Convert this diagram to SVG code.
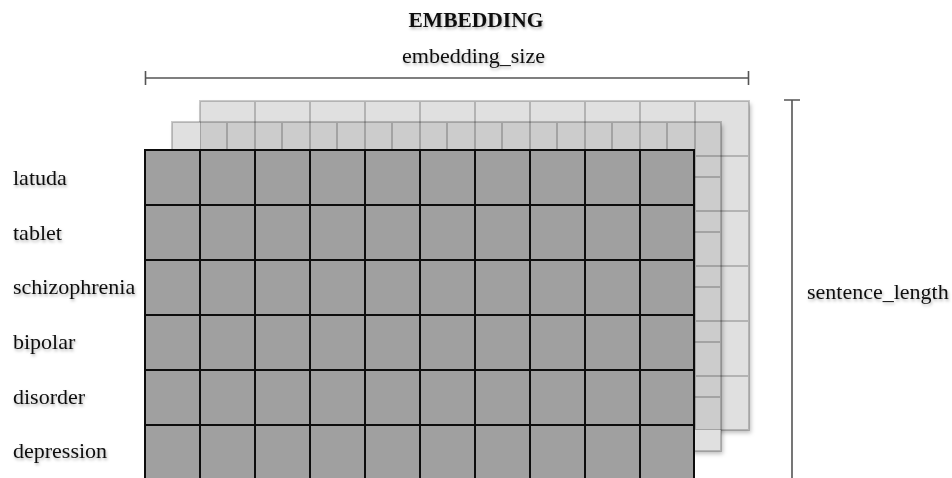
<svg xmlns="http://www.w3.org/2000/svg" width="952" height="478" viewBox="0 0 952 478">
  <defs>
    <style>
      .lbl { font-family: "Liberation Serif", "Times New Roman", serif; font-size: 22px; fill: #111; }
      .title { font-family: "Liberation Serif", "Times New Roman", serif; font-size: 21.5px; font-weight: bold; fill: #111; }
      .gl { fill: none; stroke: #000; stroke-opacity: 0.2; stroke-width: 2; }
      .front { fill: #a0a0a0; }
      .fl { fill: none; stroke: #0d0d0d; stroke-width: 2; }
      .dim { fill: none; stroke: #555; stroke-width: 1.6; }
    </style>
    <filter id="sh" x="-5%" y="-5%" width="110%" height="115%">
      <feDropShadow dx="2" dy="3" stdDeviation="2" flood-color="#000" flood-opacity="0.25"/>
    </filter>
    <filter id="tsh" x="-5%" y="-20%" width="110%" height="150%">
      <feDropShadow dx="1" dy="2" stdDeviation="1.5" flood-color="#000" flood-opacity="0.3"/>
    </filter>
    <clipPath id="ov">
      <rect x="200" y="122" width="521" height="308"/>
    </clipPath>
  </defs>
  <rect width="952" height="478" fill="#fff"/>

  <g id="layer-back">
    <rect x="200" y="101" width="549" height="329" fill="#e0e0e0" filter="url(#sh)"/>
    <path id="backgrid" class="gl" d="M200,101H749V430H200Z M255,101V430 M310,101V430 M365,101V430 M420,101V430 M475,101V430 M530,101V430 M585,101V430 M640,101V430 M695,101V430 M200,156H749 M200,211H749 M200,266H749 M200,321H749 M200,376H749"/>
  </g>

  <g id="layer-middle">
    <rect x="172" y="122" width="549" height="329" fill="#e0e0e0" filter="url(#sh)"/>
    <rect x="200" y="122" width="521" height="308" fill="#cccccc"/>
    <g clip-path="url(#ov)">
      <use href="#backgrid"/>
    </g>
    <path class="gl" d="M172,122H721V451H172Z M227,122V451 M282,122V451 M337,122V451 M392,122V451 M447,122V451 M502,122V451 M557,122V451 M612,122V451 M667,122V451 M172,177H721 M172,232H721 M172,287H721 M172,342H721 M172,397H721"/>
  </g>

  <g id="layer-front">
    <rect class="front" x="145" y="150" width="549" height="335"/>
    <path class="fl" d="M145,150H694V485H145Z M200,150V485 M255,150V485 M310,150V485 M365,150V485 M420,150V485 M475,150V485 M530,150V485 M585,150V485 M640,150V485 M145,205H694 M145,260H694 M145,315H694 M145,370H694 M145,425H694"/>
  </g>

  <g id="connectors">
    <path class="dim" d="M145.5,78H748.5 M145.5,71V85 M748.5,71V85"/>
    <path class="dim" d="M792,100V478 M784,100H800"/>
  </g>

  <g id="title" filter="url(#tsh)">
    <text class="title" x="476" y="27" text-anchor="middle">EMBEDDING</text>
  </g>
  <g id="dim-embedding-size" filter="url(#tsh)">
    <text class="lbl" x="473.5" y="63" text-anchor="middle">embedding_size</text>
  </g>
  <g id="dim-sentence-length" filter="url(#tsh)">
    <text class="lbl" x="807" y="299">sentence_length</text>
  </g>
  <g id="row-labels" filter="url(#tsh)">
    <text class="lbl" x="13" y="185">latuda</text>
    <text class="lbl" x="13" y="239.5">tablet</text>
    <text class="lbl" x="13" y="294">schizophrenia</text>
    <text class="lbl" x="13" y="349">bipolar</text>
    <text class="lbl" x="13" y="403.5">disorder</text>
    <text class="lbl" x="13" y="458">depression</text>
  </g>
</svg>
